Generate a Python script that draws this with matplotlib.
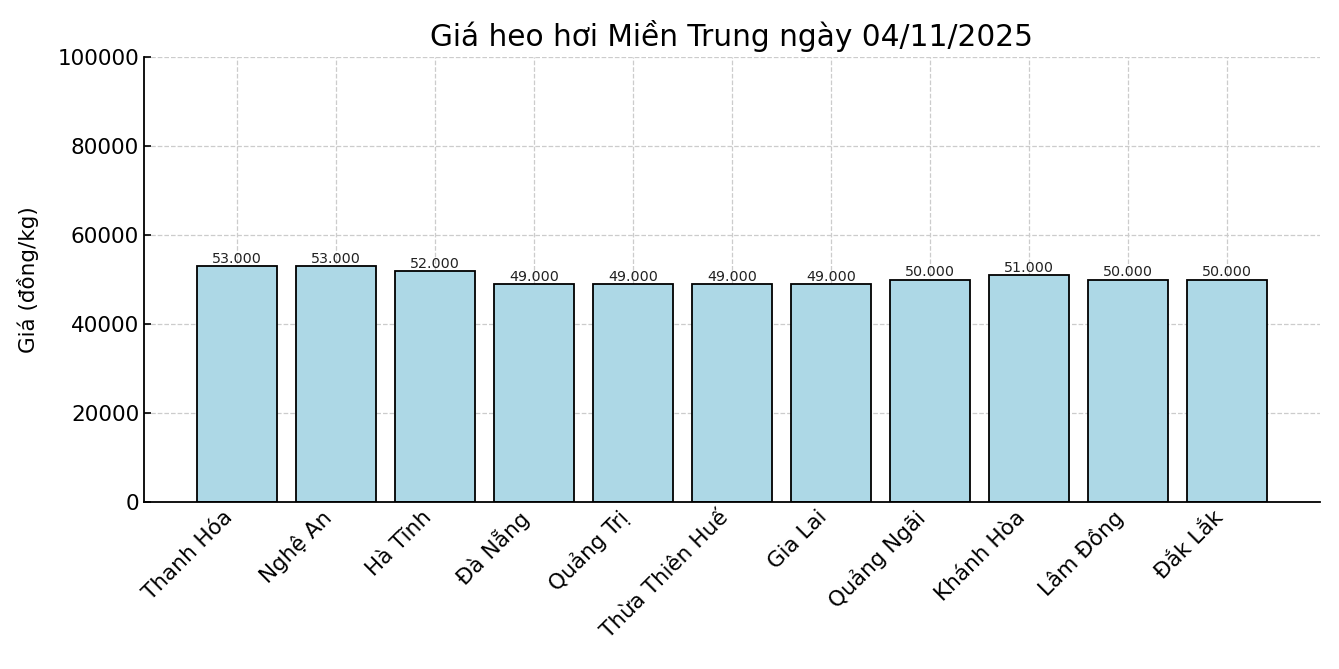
import matplotlib
matplotlib.use("Agg")
import matplotlib.pyplot as plt

provinces = ["Thanh Hóa", "Nghệ An", "Hà Tĩnh", "Đà Nẵng", "Quảng Trị", "Thừa Thiên Huế",
             "Gia Lai", "Quảng Ngãi", "Khánh Hòa", "Lâm Đồng", "Đắk Lắk"]
prices = [53000, 53000, 52000, 49000, 49000, 49000, 49000, 50000, 51000, 50000, 50000]
yticks = [0, 20000, 40000, 60000, 80000, 100000]

fig = plt.figure(figsize=(13.39, 6.69), dpi=100)
ax = fig.add_axes([144/1339, 1-502/669, (1320-144)/1339, (502-57)/669])

x = list(range(len(provinces)))
bars = ax.bar(x, prices, width=0.8, color="#ADD8E6", edgecolor="black", linewidth=1.3, zorder=2)
for xi, p in zip(x, prices):
    ax.text(xi, p, f"{p:,}".replace(",", "."), ha="center", va="bottom", fontsize=10.3, color="#222222", zorder=3)

ax.set_ylim(0, 100000)
ax.set_yticks(yticks)
ax.set_yticklabels([str(v) for v in yticks])
ax.set_xticks(x)
ax.set_xticklabels(provinces, rotation=45, ha="right", fontsize=15.5)
ax.tick_params(axis="y", labelsize=15.5)
ax.tick_params(direction="in", length=5, width=1.2)
ax.grid(True, linestyle="--", color="#cccccc", linewidth=0.9, zorder=0)
ax.set_axisbelow(True)
for s in ["top", "right"]:
    ax.spines[s].set_visible(False)
for s in ["left", "bottom"]:
    ax.spines[s].set_linewidth(1.3)
ax.set_ylabel("Giá (đồng/kg)", fontsize=15.5, labelpad=13)
ax.set_title("Giá heo hơi Miền Trung ngày 04/11/2025", fontsize=21.3, pad=8)

fig.savefig("out.png", dpi=100)
